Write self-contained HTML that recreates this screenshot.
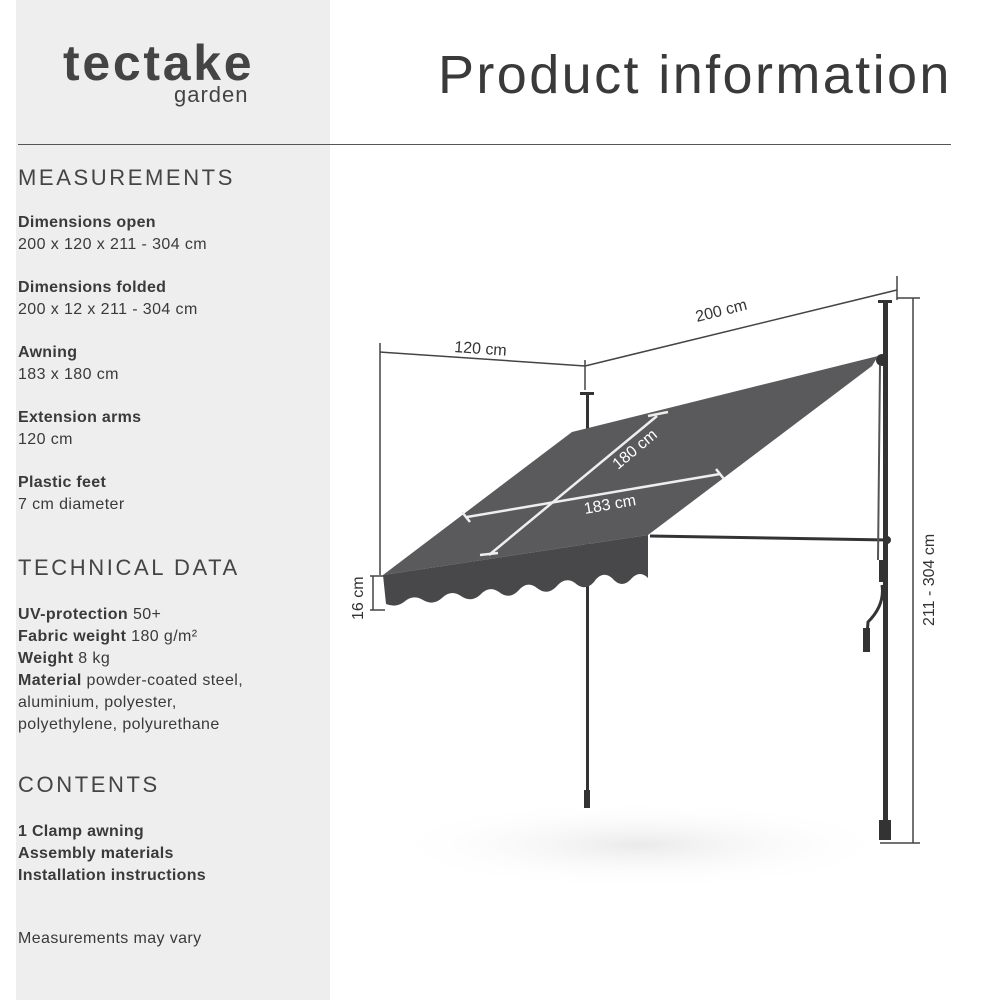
<!DOCTYPE html>
<html><head><meta charset="utf-8"><style>
body{margin:0;width:1000px;height:1000px;background:#fff;position:relative;overflow:hidden;font-family:"Liberation Sans",sans-serif;color:#3a3a3a}
.side{position:absolute;left:16px;top:0;width:314px;height:1000px;background:#eeeeee}
.t{position:absolute;white-space:nowrap}
.h{font-size:22px;letter-spacing:2.6px;color:#444}
.b{font-weight:bold;font-size:16px;letter-spacing:0.3px}
.n{font-size:16px;letter-spacing:0.4px}
</style></head><body>
<div class="side"></div>
<div class="t" style="left:63px;top:34px;font-size:50px;font-weight:bold;color:#444;letter-spacing:2.7px">tectake</div>
<div class="t" style="left:174px;top:82px;font-size:22px;color:#444;letter-spacing:1px">garden</div>
<div class="t" style="left:438px;top:44px;font-size:54px;color:#3a3a3a;letter-spacing:2.4px">Product information</div>
<div style="position:absolute;left:18px;top:144px;width:933px;height:1px;background:#555"></div>
<div class="t h" style="left:18px;top:165px">MEASUREMENTS</div>
<div class="t b" style="left:18px;top:214px">Dimensions open</div>
<div class="t n" style="left:18px;top:236px">200 x 120 x 211 - 304 cm</div>
<div class="t b" style="left:18px;top:279px">Dimensions folded</div>
<div class="t n" style="left:18px;top:301px">200 x 12 x 211 - 304 cm</div>
<div class="t b" style="left:18px;top:344px">Awning</div>
<div class="t n" style="left:18px;top:366px">183 x 180 cm</div>
<div class="t b" style="left:18px;top:409px">Extension arms</div>
<div class="t n" style="left:18px;top:431px">120 cm</div>
<div class="t b" style="left:18px;top:474px">Plastic feet</div>
<div class="t n" style="left:18px;top:496px">7 cm diameter</div>
<div class="t h" style="left:18px;top:555px">TECHNICAL DATA</div>
<div class="t n" style="left:18px;top:604px;line-height:22px"><b>UV-protection</b> 50+<br><b>Fabric weight</b> 180 g/m²<br><b>Weight</b> 8 kg<br><b>Material</b> powder-coated steel,<br>aluminium, polyester,<br>polyethylene, polyurethane</div>
<div class="t h" style="left:18px;top:772px">CONTENTS</div>
<div class="t b" style="left:18px;top:821px;line-height:22px">1 Clamp awning<br>Assembly materials<br>Installation instructions</div>
<div class="t n" style="left:18px;top:930px">Measurements may vary</div>
<svg width="1000" height="1000" style="position:absolute;left:0;top:0" font-family="Liberation Sans, sans-serif">
<defs><radialGradient id="sh"><stop offset="0" stop-color="#eaeaea"/><stop offset="1" stop-color="#fff" stop-opacity="0"/></radialGradient></defs>
<ellipse cx="640" cy="845" rx="260" ry="45" fill="url(#sh)"/>
<g stroke="#444" stroke-width="1.5" fill="none">
<line x1="380" y1="343" x2="380" y2="575"/>
<line x1="380" y1="352" x2="585" y2="366"/>
<line x1="585" y1="360" x2="585" y2="390"/>
<line x1="585" y1="366" x2="897" y2="290"/>
<line x1="897" y1="276" x2="897" y2="300"/>
<line x1="897" y1="298" x2="920" y2="298"/>
<line x1="913" y1="298" x2="913" y2="843"/>
<line x1="880" y1="843" x2="920" y2="843"/>
<line x1="370" y1="576" x2="385" y2="576"/>
<line x1="370" y1="610" x2="385" y2="610"/>
<line x1="373" y1="576" x2="373" y2="610"/>
</g>
<g fill="#333">
<rect x="586" y="393" width="3" height="415"/>
<rect x="580" y="392" width="14" height="3"/>
<rect x="584" y="790" width="6" height="18"/>
<rect x="883" y="302" width="5" height="538"/>
<rect x="878" y="300" width="14" height="3"/>
<rect x="879" y="820" width="12" height="20"/>
<rect x="879" y="560" width="5" height="22"/>
<path d="M882 585 Q885 605 868 622 L866 650" stroke="#333" stroke-width="3" fill="none"/>
<rect x="863" y="628" width="7" height="24"/>
<line x1="650" y1="536" x2="888" y2="540" stroke="#333" stroke-width="3"/>
<circle cx="887" cy="540" r="4"/>
<circle cx="882" cy="360" r="6"/>
<line x1="880" y1="365" x2="878" y2="560" stroke="#555" stroke-width="2"/>
</g>
<polygon points="383,575 572,432 878,356 872,366 648,535" fill="#5a5a5c"/>
<path d="M383,575 L648,535 L648,578 Q640,570 632,578 Q622,590 612,578 Q602,570 594,582 Q585,592 575,583 Q565,576 556,587 Q547,596 537,588 Q527,580 518,591 Q509,600 499,592 Q489,585 480,595 Q471,603 461,596 Q451,589 442,598 Q433,606 423,600 Q413,594 404,602 Q396,608 386,604 Z" fill="#48484a"/>
<g stroke="#eee" stroke-width="2.5" fill="none">
<line x1="467" y1="517" x2="720" y2="474"/>
<line x1="489" y1="555" x2="657" y2="416"/>
<line x1="462" y1="512" x2="470" y2="522"/>
<line x1="716" y1="469" x2="724" y2="479"/>
<line x1="480" y1="555" x2="498" y2="553"/>
<line x1="648" y1="416" x2="668" y2="412"/>
</g>
<g fill="#333" font-size="16">
<text x="454" y="352" transform="rotate(4 454 352)">120 cm</text>
<text x="697" y="322" transform="rotate(-14 697 322)">200 cm</text>
<text x="363" y="620" transform="rotate(-90 363 620)">16 cm</text>
<text x="934" y="626" transform="rotate(-90 934 626)">211 - 304 cm</text>
</g>
<g fill="#fff" font-size="16">
<text x="585" y="514" transform="rotate(-10 585 514)">183 cm</text>
<text x="618" y="470" transform="rotate(-40 618 470)">180 cm</text>
</g>
</svg>
</body></html>
